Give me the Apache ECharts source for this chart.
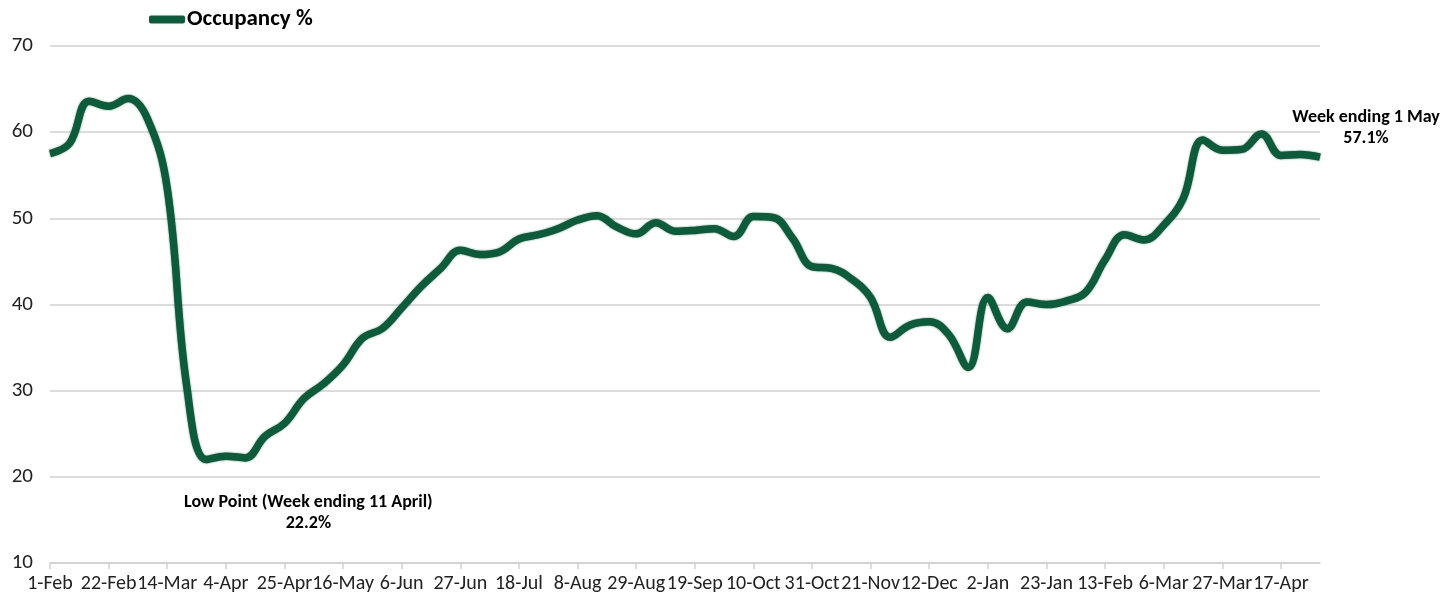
<!DOCTYPE html>
<html>
<head>
<meta charset="utf-8">
<script src="https://cdn.jsdelivr.net/npm/echarts@6/dist/echarts.min.js"></script>
<style>
  html, body { margin: 0; padding: 0; background: #fff; }
  #occChart { width: 1447px; height: 600px; }
</style>
</head>
<body>
<div id="occChart"></div>
<script>
// weeks ending, 1 Feb 2020 -> 1 May 2021
const weeks = [
  "1-Feb", "8-Feb", "15-Feb", "22-Feb", "29-Feb", "7-Mar", "14-Mar", "21-Mar", "28-Mar", "4-Apr",
  "11-Apr", "18-Apr", "25-Apr", "2-May", "9-May", "16-May", "23-May", "30-May", "6-Jun", "13-Jun",
  "20-Jun", "27-Jun", "4-Jul", "11-Jul", "18-Jul", "25-Jul", "1-Aug", "8-Aug", "15-Aug", "22-Aug",
  "29-Aug", "5-Sep", "12-Sep", "19-Sep", "26-Sep", "3-Oct", "10-Oct", "17-Oct", "24-Oct", "31-Oct",
  "7-Nov", "14-Nov", "21-Nov", "28-Nov", "5-Dec", "12-Dec", "19-Dec", "26-Dec", "2-Jan", "9-Jan",
  "16-Jan", "23-Jan", "30-Jan", "6-Feb", "13-Feb", "20-Feb", "27-Feb", "6-Mar", "13-Mar", "20-Mar",
  "27-Mar", "3-Apr", "10-Apr", "17-Apr", "24-Apr", "1-May"
];

const occupancy = [
  57.5, 58.7, 63.6, 63.0, 63.9, 61.5, 53.5, 30.5, 22.0, 22.4,
  22.2, 24.7, 26.2, 29.1, 30.8, 33.0, 36.1, 37.2, 39.6, 42.1,
  44.2, 46.3, 45.8, 46.1, 47.6, 48.1, 48.8, 49.8, 50.3, 49.0,
  48.2, 49.5, 48.5, 48.6, 48.8, 47.9, 50.2, 50.1, 47.7, 44.4,
  44.2, 43.0, 40.8, 36.2, 37.6, 38.0, 36.5, 32.7, 40.8, 37.2,
  40.3, 40.0, 40.4, 41.4, 45.2, 48.1, 47.5, 49.2, 52.3, 59.1,
  57.9, 58.0, 59.8, 57.3, 57.4, 57.1
];

const yTicks = [10, 20, 30, 40, 50, 60, 70];

// annotated points
const lowIdx = 10;
const lastIdx = weeks.length - 1;

const font = "Calibri, Carlito, Lato, 'Noto Sans', sans-serif";
const green = "#0b5c3a";

const chart = echarts.init(document.getElementById("occChart"));
chart.setOption({
  animation: false,
  textStyle: { fontFamily: font },
  grid: { left: 50, right: 127, top: 46, bottom: 37 },
  legend: {
    data: ["Occupancy %"],
    left: 144,
    top: 3,
    icon: "roundRect",
    itemWidth: 36,
    itemHeight: 8,
    textStyle: { fontSize: 23, fontWeight: "bold", color: "#000", fontFamily: font, padding: [0, 0, 0, -3] }
  },
  xAxis: {
    type: "category",
    data: weeks,
    boundaryGap: false,
    axisLine: { lineStyle: { color: "#d0d0d0", width: 1.5 } },
    axisTick: { interval: 2, length: 6, lineStyle: { color: "#d0d0d0", width: 1.5 } },
    axisLabel: { interval: 2, color: "#222", fontSize: 20, margin: 11, fontFamily: font }
  },
  yAxis: {
    type: "value",
    min: yTicks[0],
    max: yTicks[yTicks.length - 1],
    interval: 10,
    axisLine: { show: false },
    axisTick: { show: false },
    axisLabel: { color: "#222", fontSize: 21, margin: 17, fontFamily: font },
    splitLine: { lineStyle: { color: "#d0d0d0", width: 1.5 } }
  },
  series: [
    {
      name: "Occupancy %",
      type: "line",
      data: occupancy,
      smooth: 0.4,
      showSymbol: false,
      itemStyle: { color: green },
      lineStyle: { color: green, width: 7.5, shadowColor: "rgba(0,40,20,0.6)", shadowBlur: 2 },
      markPoint: {
        symbol: "circle",
        symbolSize: 0,
        data: [
          {
            coord: [lowIdx, occupancy[lowIdx]],
            label: {
              show: true,
              formatter: "Low Point (Week ending 11 April)\n" + occupancy[lowIdx].toFixed(1) + "%",
              offset: [63, 55]
            }
          },
          {
            coord: [lastIdx, occupancy[lastIdx]],
            label: {
              show: true,
              formatter: "Week ending 1 May\n" + occupancy[lastIdx].toFixed(1) + "%",
              offset: [46, -29]
            }
          }
        ],
        label: {
          color: "#000",
          fontWeight: "bold",
          fontSize: 18,
          lineHeight: 21,
          align: "center",
          fontFamily: font
        }
      }
    }
  ]
});
</script>
</body>
</html>
